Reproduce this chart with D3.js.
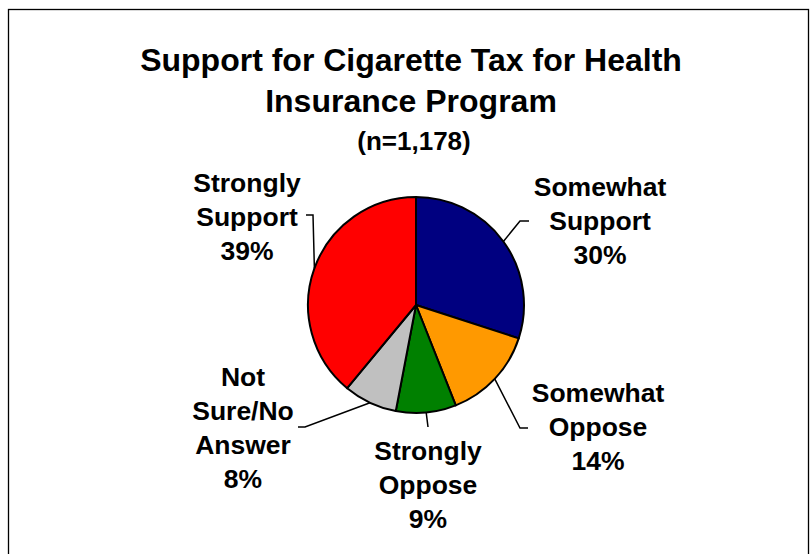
<!DOCTYPE html>
<html>
<head>
<meta charset="utf-8">
<script src="https://cdn.jsdelivr.net/npm/d3@7"></script>
<style>
  html, body { margin: 0; padding: 0; background: #fff; }
  svg { display: block; }
  text { font-family: "Liberation Sans", Arial, sans-serif; font-weight: bold; fill: #000; }
</style>
</head>
<body>
<svg id="chart" width="812" height="554"></svg>
<script>
// Survey responses, in drawing order (clockwise from 12 o'clock)
const categories = ["Somewhat Support", "Somewhat Oppose", "Strongly Oppose", "Not Sure/No Answer", "Strongly Support"];
const values = [30, 14, 9, 8, 39];
const colors = ["#000080", "#FF9900", "#008000", "#C0C0C0", "#FF0000"];
// Label text lines for each slice (percent appended from values)
const labelLines = [["Somewhat", "Support"], ["Somewhat", "Oppose"], ["Strongly", "Oppose"], ["Not", "Sure/No", "Answer"], ["Strongly", "Support"]];
const titleLines = ["Support for Cigarette Tax for Health", "Insurance Program"];
const subtitle = "(n=1,178)";

// Layout: pie geometry and label placement relative to the pie centre
const W = 812, H = 554;
const cx = 416, cy = 305, radius = 108;
const lineH = 34;
// elbow: bend of the leader line; tail: horizontal run from the elbow; text: label centre x, first baseline y
const labelLayout = [
  { elbow: [104, -84], tail: 9,  text: [184, -109] },
  { elbow: [104, 123], tail: 8,  text: [182, 97] },
  { elbow: [12, 122],  tail: 0,  text: [12, 155] },
  { elbow: [-111, 122], tail: -7, text: [-173, 81] },
  { elbow: [-103, -90], tail: -7, text: [-169, -113] }
];

const svg = d3.select("#chart");

// Frame around the chart area
svg.append("rect")
  .attr("x", 8.5).attr("y", 9.5)
  .attr("width", 800).attr("height", 580)
  .attr("fill", "none").attr("stroke", "#000").attr("stroke-width", 1.3);

// Title
const title = svg.append("g");
titleLines.forEach((t, i) => {
  title.append("text")
    .attr("x", 411).attr("y", 71 + i * 41)
    .attr("text-anchor", "middle")
    .attr("font-size", 32)
    .text(t);
});
title.append("text")
  .attr("x", 414).attr("y", 150)
  .attr("text-anchor", "middle")
  .attr("font-size", 26)
  .text(subtitle);

// Pie
const pie = d3.pie().sort(null).value(d => d)(values);
const arc = d3.arc().innerRadius(0).outerRadius(radius);

const g = svg.append("g").attr("transform", `translate(${cx},${cy})`);
g.selectAll("path.slice")
  .data(pie)
  .join("path")
  .attr("class", "slice")
  .attr("d", arc)
  .attr("fill", (d, i) => colors[i])
  .attr("stroke", "#000")
  .attr("stroke-width", 2)
  .attr("stroke-linejoin", "round");

// Leader lines from each slice's outer edge at its mid-angle
pie.forEach((d, i) => {
  const mid = (d.startAngle + d.endAngle) / 2;
  const sx = radius * Math.sin(mid), sy = -radius * Math.cos(mid);
  const L = labelLayout[i];
  const pts = [[sx, sy], L.elbow];
  if (L.tail !== 0) pts.push([L.elbow[0] + L.tail, L.elbow[1]]);
  g.append("path")
    .attr("d", d3.line()(pts))
    .attr("fill", "none")
    .attr("stroke", "#000")
    .attr("stroke-width", 1.5);

  const lines = labelLines[i].concat([values[i] + "%"]);
  const t = g.append("text")
    .attr("text-anchor", "middle")
    .attr("font-size", 26.5);
  lines.forEach((ln, k) => {
    t.append("tspan")
      .attr("x", L.text[0])
      .attr("y", L.text[1] + k * lineH)
      .text(ln);
  });
});
</script>
</body>
</html>
